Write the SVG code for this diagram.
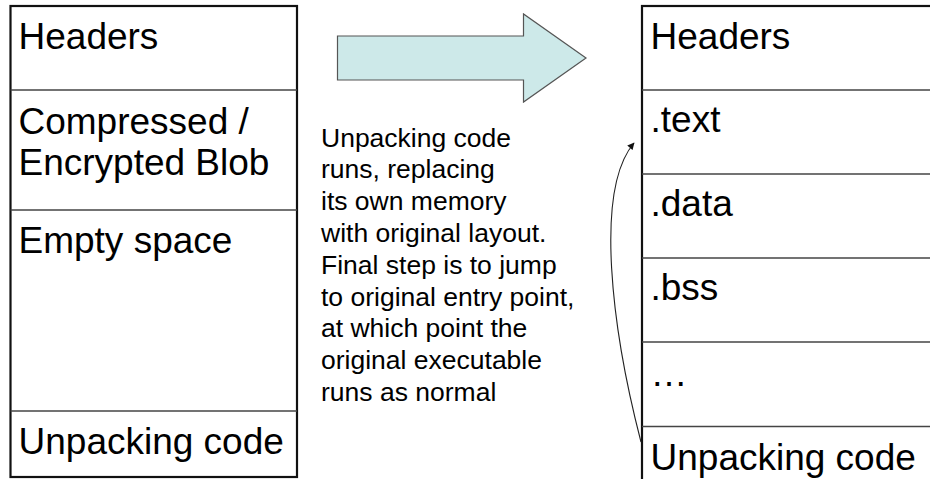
<svg xmlns="http://www.w3.org/2000/svg" width="930" height="479" viewBox="0 0 930 479">
  <style>
    .frame { fill: #ffffff; stroke: #111111; stroke-width: 2.2; }
    .divider { stroke: #444444; stroke-width: 1.3; fill: none; }
    .label { font-family: "Liberation Sans", Arial, sans-serif; font-size: 37px; fill: #000000; }
    .note { font-family: "Liberation Sans", Arial, sans-serif; font-size: 26.5px; fill: #000000; }
    .big-arrow { fill: #cde9e9; stroke: #555555; stroke-width: 1.2; }
    .jump { fill: none; stroke: #222222; stroke-width: 1.1; }
  </style>
  <defs>
    <marker id="tip" viewBox="0 0 10 10" refX="9" refY="5" markerWidth="8" markerHeight="7" markerUnits="userSpaceOnUse" orient="auto">
      <path d="M0,0 L10,5 L0,10 Z" fill="#111111"/>
    </marker>
  </defs>

  <!-- Packed executable layout -->
  <g id="packed-image">
    <rect class="frame" x="10.5" y="6" width="286.5" height="471"/>
    <g id="packed-headers">
      <text class="label" x="18.5" y="49">Headers</text>
    </g>
    <g id="packed-blob">
      <line class="divider" x1="10.5" y1="90" x2="297" y2="90"/>
      <text class="label" x="18.5" y="134">Compressed /</text>
      <text class="label" x="18.5" y="175">Encrypted Blob</text>
    </g>
    <g id="packed-empty">
      <line class="divider" x1="10.5" y1="210" x2="297" y2="210"/>
      <text class="label" x="18.5" y="253">Empty space</text>
    </g>
    <g id="packed-stub">
      <line class="divider" x1="10.5" y1="411" x2="297" y2="411"/>
      <text class="label" x="18.5" y="454">Unpacking code</text>
    </g>
  </g>

  <!-- Block arrow between the two layouts -->
  <g id="transform-arrow">
    <polygon class="big-arrow" points="337.5,36 523.5,36 523.5,14 586,58 523.5,102 523.5,80 337.5,80"/>
  </g>

  <!-- Explanation -->
  <g id="explanation">
    <text class="note" x="321" y="146.5">Unpacking code</text>
    <text class="note" x="321" y="178.3">runs, replacing</text>
    <text class="note" x="321" y="210.1">its own memory</text>
    <text class="note" x="321" y="241.9">with original layout.</text>
    <text class="note" x="321" y="273.7">Final step is to jump</text>
    <text class="note" x="321" y="305.5">to original entry point,</text>
    <text class="note" x="321" y="337.3">at which point the</text>
    <text class="note" x="321" y="369.1">original executable</text>
    <text class="note" x="321" y="400.9">runs as normal</text>
  </g>

  <!-- Unpacked executable layout -->
  <g id="unpacked-image">
    <rect class="frame" x="642" y="6" width="300" height="490"/>
    <g id="unpacked-headers">
      <text class="label" x="650.5" y="49">Headers</text>
    </g>
    <g id="unpacked-text">
      <line class="divider" x1="642" y1="90" x2="930" y2="90"/>
      <text class="label" x="650.5" y="132">.text</text>
    </g>
    <g id="unpacked-data">
      <line class="divider" x1="642" y1="174" x2="930" y2="174"/>
      <text class="label" x="650.5" y="216">.data</text>
    </g>
    <g id="unpacked-bss">
      <line class="divider" x1="642" y1="258" x2="930" y2="258"/>
      <text class="label" x="650.5" y="300">.bss</text>
    </g>
    <g id="unpacked-more">
      <line class="divider" x1="642" y1="342" x2="930" y2="342"/>
      <text class="label" x="650.5" y="386">…</text>
    </g>
    <g id="unpacked-stub">
      <line class="divider" x1="642" y1="426.5" x2="930" y2="426.5"/>
      <text class="label" x="650.5" y="470">Unpacking code</text>
    </g>
  </g>

  <!-- Jump from the stub back to the original entry point -->
  <g id="connectors">
    <path class="jump" d="M641,442 C612,330 594,190 634,143" marker-end="url(#tip)"/>
  </g>
</svg>
